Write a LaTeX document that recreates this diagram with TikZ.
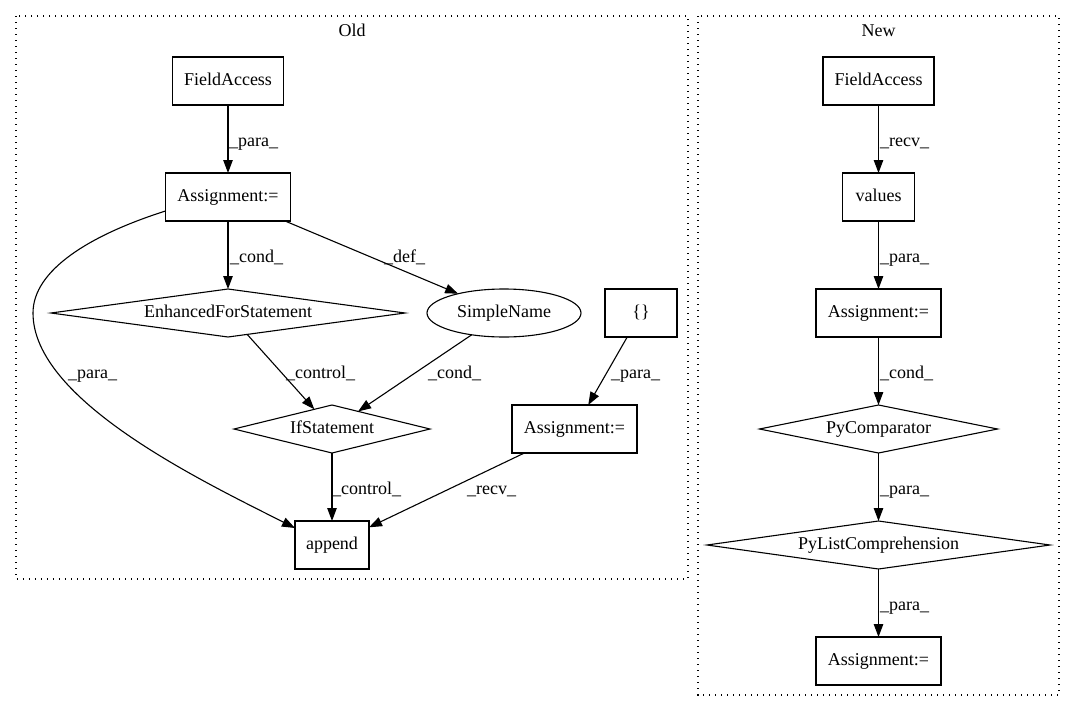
\documentclass[tikz,border=0pt]{standalone}
\usepackage{fontspec}
\setmainfont{Liberation Serif}
\usetikzlibrary{arrows.meta,shapes.geometric}
\begin{document}
\tikzset{
 base/.style={draw, line width=1.1pt, inner sep=0pt, outer sep=0pt, font=\fontsize{18}{21}\selectfont, text height=12.5pt, text depth=4pt},
 box/.style={base, rectangle, minimum height=48pt},
 dia/.style={base, diamond, minimum height=48pt},
 ell/.style={base, ellipse, minimum height=48pt},
 conn/.style={line width=1.1pt, -{Triangle[length=13pt,width=9.5pt]}},
 lab/.style={font=\fontsize{18}{21}\selectfont, anchor=base west, inner sep=0pt},
 ttl/.style={font=\fontsize{18}{21}\selectfont, anchor=base, inner sep=0pt},
 cluster/.style={line width=1.3pt, dash pattern=on 1.3pt off 4.7pt},
}
\begin{tikzpicture}[x=1pt,y=-1pt]
\useasboundingbox (0,0) rectangle (1075,712);
% clusters
\draw[cluster] (16,16) rectangle (688,579);
\draw[cluster] (698,16) rectangle (1059,695);
\node[ttl] (told) at (352,36) {Old};
\node[ttl] (tnew) at (878.5,36) {New};

% Old nodes
\node[box, minimum width=111pt] (ofa) at (228,81) {FieldAccess};
\node[box, minimum width=125pt] (oasg) at (228,197) {Assignment:=};
\node[dia, minimum width=354pt, shape aspect=7.4] (efs) at (228,313) {\makebox[0pt]{EnhancedForStatement}};
\node[ell, minimum width=154pt] (sn) at (504,313) {\makebox[0pt]{SimpleName}};
\node[box, minimum width=72pt] (br) at (641,313) {\{\}};
\node[dia, minimum width=196pt, shape aspect=4] (ifs) at (332,429) {\makebox[0pt]{IfStatement}};
\node[box, minimum width=125pt] (oasg2) at (574.5,429) {Assignment:=};
\node[box, minimum width=74pt] (app) at (332,545) {append};

% Old edges
\draw[conn] (ofa) -- (oasg);
\node[lab] (l1) at (229,146) {\_para\_};
\draw[conn] (oasg) -- (efs);
\node[lab] (l2) at (230,262) {\_cond\_};
\draw[conn] (oasg) -- (sn);
\node[lab] (l3) at (384,262) {\_def\_};
\coordinate (bend) at (33,313);
\draw[line width=1.1pt] ([yshift=-14pt]oasg.west) .. controls (90,235) and (33,270) .. (bend);
\draw[conn] (bend) .. controls (33,400) and (200,480) .. ([yshift=17pt]app.west);
\node[lab] (l4) at (68,378) {\_para\_};
\draw[conn] (efs) -- (ifs);
\node[lab] (l5) at (286,378) {\_control\_};
\draw[conn] (sn) -- (ifs);
\node[lab] (l6) at (428,378) {\_cond\_};
\draw[conn] (br) -- (oasg2);
\node[lab] (l7) at (611,378) {\_para\_};
\draw[conn] (ifs) -- (app);
\node[lab] (l8) at (332,494) {\_control\_};
\draw[conn] (oasg2) -- (app);
\node[lab] (l9) at (467,494) {\_recv\_};

% New nodes
\node[box, minimum width=111pt] (nfa) at (878.5,81) {FieldAccess};
\node[box, minimum width=72pt] (val) at (878.5,197) {values};
\node[box, minimum width=125pt] (nasg) at (878.5,313) {Assignment:=};
\node[dia, minimum width=238pt, shape aspect=5] (pyc) at (878.5,429) {\makebox[0pt]{PyComparator}};
\node[dia, minimum width=343pt, shape aspect=7] (plc) at (878.5,545) {\makebox[0pt]{PyListComprehension}};
\node[box, minimum width=125pt] (nasg2) at (878.5,661) {Assignment:=};

% New edges
\draw[conn] (nfa) -- (val);
\node[lab] (m1) at (880,146) {\_recv\_};
\draw[conn] (val) -- (nasg);
\node[lab] (m2) at (880,262) {\_para\_};
\draw[conn] (nasg) -- (pyc);
\node[lab] (m3) at (880,378) {\_cond\_};
\draw[conn] (pyc) -- (plc);
\node[lab] (m4) at (880,494) {\_para\_};
\draw[conn] (plc) -- (nasg2);
\node[lab] (m5) at (880,610) {\_para\_};
\end{tikzpicture}
\end{document}
